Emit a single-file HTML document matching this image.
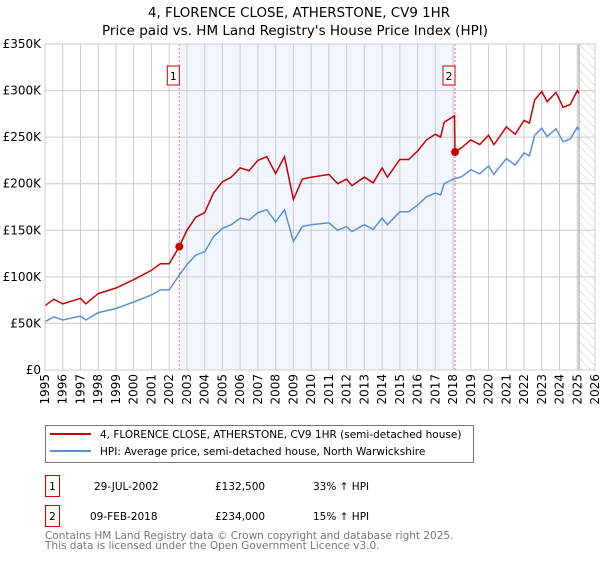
<!DOCTYPE html>
<html><head><meta charset="utf-8"><style>
body{margin:0;background:#fff;font-family:"Liberation Sans","DejaVu Sans",sans-serif;}
svg text{font-family:"DejaVu Sans","Liberation Sans",sans-serif;}
</style></head><body>
<svg id="c" width="600" height="560" viewBox="0 0 600 560" xmlns="http://www.w3.org/2000/svg">
<defs><pattern id="hatch" width="6" height="6" patternUnits="userSpaceOnUse" patternTransform="rotate(-45)"><line x1="0" y1="0" x2="0" y2="6" stroke="#ccc" stroke-width="1"/></pattern></defs>
<text x="148" y="17" font-size="13" fill="#000" textLength="302" lengthAdjust="spacingAndGlyphs">4, FLORENCE CLOSE, ATHERSTONE, CV9 1HR</text>
<text x="102" y="35" font-size="13" fill="#000" textLength="386" lengthAdjust="spacingAndGlyphs">Price paid vs. HM Land Registry's House Price Index (HPI)</text>
<g id="bg"></g><g id="grid"></g><g id="marks"></g><g id="axes"></g>
<rect x="45.5" y="425.5" width="428" height="37" fill="#fff" stroke="#777"/>
<line x1="50" y1="434" x2="91" y2="434" stroke="#cc0000" stroke-width="2"/>
<text x="100" y="438" font-size="10.5">4, FLORENCE CLOSE, ATHERSTONE, CV9 1HR (semi-detached house)</text>
<line x1="50" y1="451" x2="91" y2="451" stroke="#5b8fd6" stroke-width="2"/>
<text x="100" y="455" font-size="10.5">HPI: Average price, semi-detached house, North Warwickshire</text>
<g>
<rect x="45.5" y="475.5" width="14" height="21" fill="#fff" stroke="#cc0000"/><text x="52.5" y="490" font-size="10.5" text-anchor="middle">1</text>
<text x="94" y="490" font-size="10.5">29-JUL-2002</text><text x="215" y="490" font-size="10.5">£132,500</text><text x="313" y="490" font-size="10.5">33% ↑ HPI</text></g>
<g>
<rect x="45.5" y="505.5" width="14" height="21" fill="#fff" stroke="#cc0000"/><text x="52.5" y="520" font-size="10.5" text-anchor="middle">2</text>
<text x="90" y="520" font-size="10.5">09-FEB-2018</text><text x="215" y="520" font-size="10.5">£234,000</text><text x="313" y="520" font-size="10.5">15% ↑ HPI</text></g>
<text x="45" y="539" font-size="10.5" fill="#777">Contains HM Land Registry data © Crown copyright and database right 2025.</text>
<text x="45" y="549" font-size="10.5" fill="#777">This data is licensed under the Open Government Licence v3.0.</text>
</svg>
<script>
const hpiDates=[1995,1995.5,1996,1997,1997.3,1998,1999,2000,2001,2001.5,2002,2002.57,2003,2003.5,2004,2004.5,2005,2005.5,2006,2006.5,2007,2007.5,2008,2008.5,2009,2009.5,2010,2011,2011.5,2012,2012.3,2013,2013.5,2014,2014.3,2015,2015.5,2016,2016.5,2017,2017.3,2017.5,2018,2018.5,2019,2019.5,2020,2020.3,2020.5,2021,2021.5,2022,2022.3,2022.6,2023,2023.3,2023.8,2024.2,2024.6,2025,2025.1];
const hpiValues=[51.9,57,53.7,58,53.7,61.6,66,73,80.5,86,86,102,113,123.5,127,143,152,156,163,161,169,172,159,172,138,154,156,158,150,154,148.6,156,151,163,156,170,170,177,186,190,188,200,205,207.6,215,210.5,219,210,215,227,220,233,230,252,259.6,250.6,259,245,248,260.7,258];
const priceDates=[1995,1995.5,1996,1997,1997.3,1998,1999,2000,2001,2001.5,2002,2002.57,2003,2003.5,2004,2004.5,2005,2005.5,2006,2006.5,2007,2007.5,2008,2008.5,2009,2009.5,2010,2011,2011.5,2012,2012.3,2013,2013.5,2014,2014.3,2015,2015.5,2016,2016.5,2017,2017.3,2017.5,2018.08,2018.11,2018.5,2019,2019.5,2020,2020.3,2020.5,2021,2021.5,2022,2022.3,2022.6,2023,2023.3,2023.8,2024.2,2024.6,2025,2025.1];
const priceValues=[69,76,71,77,71,82,88,97,107,114,114,132.5,150,164,169,190,202,207,217,214,225,229,211,229,183,205,207,210,200,205,198,207,201,217,207,226,226,235,247,253,250,266,273,234,239,247,242,252,242,247,261,253,268,265,290,299,288,298,282,285,300,297];
const saleDates=[2002.57,2018.11];
const saleValues=[132.5,234];
const saleLabels=["1","2"];
const yTicks=[0,50,100,150,200,250,300,350];
const yTickLabels=["£0","£50K","£100K","£150K","£200K","£250K","£300K","£350K"];
const xYears=[1995,1996,1997,1998,1999,2000,2001,2002,2003,2004,2005,2006,2007,2008,2009,2010,2011,2012,2013,2014,2015,2016,2017,2018,2019,2020,2021,2022,2023,2024,2025,2026];
const dataEnd=2025.1;

const L=45,R=595,T=44,B=370;
const X=v=>L+(v-1995)/(2026-1995)*(R-L);
const Y=v=>B-v/350*(B-T);
const NS="http://www.w3.org/2000/svg";
function mk(parent,tag,attrs){const e=document.createElementNS(NS,tag);for(const k in attrs)e.setAttribute(k,attrs[k]);document.getElementById(parent).appendChild(e);return e;}

let e=mk('bg','rect',{x:L,y:T,width:R-L,height:B-T,fill:'#fff'});


e=mk('bg','rect',{x:X(saleDates[0]),y:T,width:X(saleDates[1])-X(saleDates[0]),height:B-T,fill:'#eef2fc',opacity:0.8});


e=mk('bg','rect',{x:X(dataEnd),y:T,width:R-X(dataEnd),height:B-T,fill:'url(#hatch)'});



yTicks.forEach((t,i)=>{
  e=mk('grid','line',{x1:L,x2:R,y1:Y(t),y2:Y(t),stroke:'#ccc','stroke-width':1});
  
  
  e=mk('axes','text',{x:L-4,y:Y(t)+4,'text-anchor':'end','font-size':12,fill:'#000'});
  e.textContent=yTickLabels[i];
  
  
});
xYears.forEach(yr=>{
  e=mk('grid','line',{x1:X(yr),x2:X(yr),y1:T,y2:B,stroke:'#ccc','stroke-width':1});
  
  
  e=mk('axes','text',{x:0,y:0,'text-anchor':'end','font-size':12,fill:'#000',transform:`translate(${X(yr)+4},${B+4}) rotate(-90)`});
  e.textContent=yr;
  
  
});
e=mk('grid','line',{x1:X(dataEnd),x2:X(dataEnd),y1:T,y2:B,stroke:'#999','stroke-width':1});



saleDates.forEach((d,i)=>{
  e=mk('marks','line',{x1:X(d),x2:X(d),y1:T,y2:B,stroke:'#f07070','stroke-width':1,'stroke-dasharray':'2,2'});
  
  
});
const pts=(ds,vs)=>ds.map((d,i)=>X(d).toFixed(1)+','+Y(vs[i]).toFixed(1)).join(' ');
e=mk('marks','polyline',{points:pts(hpiDates,hpiValues),fill:'none',stroke:'#5b8fd6','stroke-width':1.5});


e=mk('marks','polyline',{points:pts(priceDates,priceValues),fill:'none',stroke:'#cc0000','stroke-width':1.5});


saleDates.forEach((d,i)=>{
  e=mk('marks','circle',{cx:X(d),cy:Y(saleValues[i]),r:4,fill:'#cc0000'});
  
  
  e=mk('marks','rect',{x:X(d)-12,y:66,width:12,height:19,fill:'#fff',stroke:'#cc0000'});
  
  
  e=mk('marks','text',{x:X(d)-6,y:80,'text-anchor':'middle','font-size':11,fill:'#000'});
  e.textContent=saleLabels[i];
  
  
});
e=mk('axes','rect',{x:L,y:T,width:R-L,height:B-T,fill:'none',stroke:'#ccc'});


</script>
</body></html>
